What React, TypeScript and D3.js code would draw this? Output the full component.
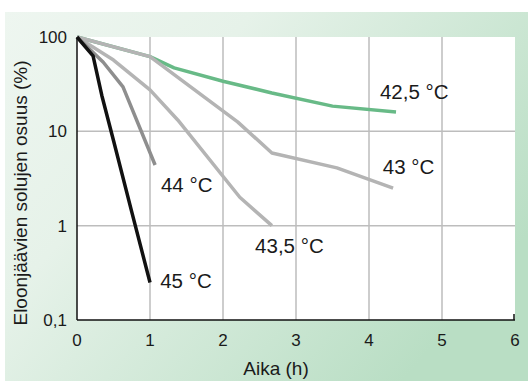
import * as d3 from "d3"

const FONT = "'Liberation Sans', Arial, Helvetica, sans-serif"

// hours
const xTicks = [0, 1, 2, 3, 4, 5, 6]
const yTicks = [100, 10, 1, 0.1]
const yTickLabels = ["100", "10", "1", "0,1"]

// survival (%) per temperature
const t425 = [
    { h: 0, v: 100 }, { h: 1, v: 62 }, { h: 1.33, v: 47 }, { h: 2, v: 34 },
    { h: 2.67, v: 25.5 }, { h: 3.5, v: 18.5 }, { h: 4.37, v: 16 },
]
const t43 = [
    { h: 0, v: 100 }, { h: 1, v: 62 }, { h: 2.2, v: 12.6 }, { h: 2.67, v: 5.9 },
    { h: 3.56, v: 4.1 }, { h: 4.33, v: 2.5 },
]
const t435 = [
    { h: 0, v: 100 }, { h: 0.5, v: 57 }, { h: 1, v: 27.5 }, { h: 1.38, v: 13.2 },
    { h: 2.23, v: 2 }, { h: 2.67, v: 1 },
]
const t44 = [
    { h: 0, v: 100 }, { h: 0.36, v: 54 }, { h: 0.63, v: 29.6 }, { h: 1.07, v: 4.4 },
]
const t45 = [
    { h: 0, v: 100 }, { h: 0.22, v: 63 }, { h: 0.34, v: 24 }, { h: 0.5, v: 8 },
    { h: 0.75, v: 1.4 }, { h: 1, v: 0.25 },
]

// label anchor (hours, %) for each curve
const series = [
    { name: "42,5", data: t425, color: "#68ba87", lx: 4.15, lv: 22 },
    { name: "43", data: t43, color: "#b4b4b4", lx: 4.19, lv: 3.5 },
    { name: "43,5", data: t435, color: "#b4b4b4", lx: 2.44, lv: 0.51 },
    { name: "44", data: t44, color: "#8e8e8e", lx: 1.15, lv: 2.27 },
    { name: "45", data: t45, color: "#111111", lx: 1.14, lv: 0.22 },
]

export default function App() {
    const W = 528
    const H = 381
    const x = d3.scaleLinear().domain([0, 6]).range([77, 515])
    const y = d3.scaleLog().domain([0.1, 100]).range([320, 37])

    const line = d3.line<{ h: number; v: number }>()
        .x(d => x(d.h))
        .y(d => y(d.v))

    return (
        <svg
            width={W}
            height={H}
            style={{ position: "absolute", left: 0, top: 0, display: "block", background: "#fff" }}
            fontFamily={FONT}
        >
            <defs>
                <linearGradient id="bg" x1="0" y1="0" x2="1" y2="0.6">
                    <stop offset="0" stopColor="#eef6f0" />
                    <stop offset="0.35" stopColor="#e6f2e9" />
                    <stop offset="1" stopColor="#b9dec4" />
                </linearGradient>
            </defs>
            <rect x={5} y={12} width={W - 5} height={H - 12} fill="url(#bg)" />
            <rect x={x(0)} y={y(100)} width={x(6) - x(0)} height={y(0.1) - y(100)} fill="#fff" />

            {/* grid */}
            {xTicks.slice(1, 6).map(t => (
                <line key={"gx" + t} x1={x(t)} x2={x(t)} y1={y(100)} y2={y(0.1)} stroke="#bdbdbd" strokeWidth={1.5} />
            ))}
            {[10, 1].map(t => (
                <line key={"gy" + t} x1={x(0)} x2={x(6)} y1={y(t)} y2={y(t)} stroke="#bdbdbd" strokeWidth={1.5} />
            ))}

            {/* axes */}
            <line x1={x(0)} x2={x(0)} y1={y(100)} y2={y(0.1)} stroke="#111" strokeWidth={1.5} />
            <line x1={x(0)} x2={x(6)} y1={y(0.1)} y2={y(0.1)} stroke="#111" strokeWidth={1.5} />
            <line x1={x(6) - 1} x2={x(6) - 1} y1={y(0.1) - 6} y2={y(0.1)} stroke="#111" strokeWidth={1.5} />

            {yTicks.map((t, i) => (
                <text key={"yt" + t} x={67} y={y(t)} dy="0.36em" textAnchor="end" fontSize={17} fill="#1a1a1a">
                    {yTickLabels[i]}
                </text>
            ))}
            {xTicks.map(t => (
                <text key={"xt" + t} x={x(t)} y={346} textAnchor="middle" fontSize={17} fill="#1a1a1a">
                    {t}
                </text>
            ))}

            <text x={276} y={375} textAnchor="middle" fontSize={19} fill="#1a1a1a">Aika (h)</text>
            <text
                transform="translate(27,193) rotate(-90)"
                textAnchor="middle"
                fontSize={19}
                fill="#1a1a1a"
            >
                Eloonjäävien solujen osuus (%)
            </text>

            {series.map(s => (
                <path
                    key={s.name}
                    d={line(s.data) ?? ""}
                    fill="none"
                    stroke={s.color}
                    strokeWidth={3.5}
                    strokeLinejoin="round"
                />
            ))}

            {series.map(s => (
                <text key={"l" + s.name} x={x(s.lx)} y={y(s.lv)} fontSize={20.5} fill="#1a1a1a">
                    {s.name} °C
                </text>
            ))}
        </svg>
    )
}
